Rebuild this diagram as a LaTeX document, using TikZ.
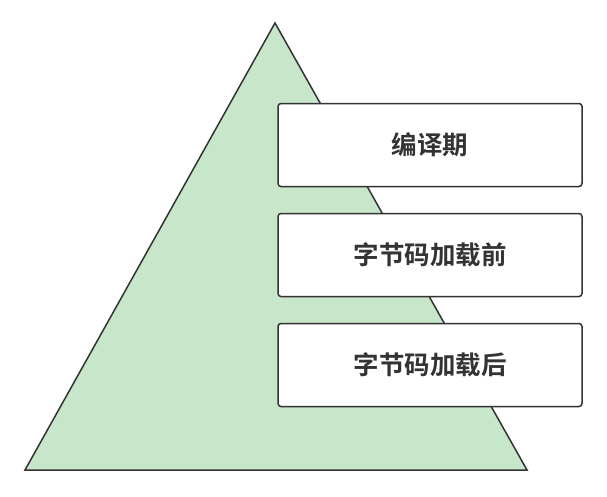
\documentclass[tikz,border=0pt]{standalone}
\usepackage{fontspec}
\newfontfamily\cjk{Noto Sans CJK SC}[BoldFont={* Bold}]
\definecolor{tri}{HTML}{C8E6C9}
\definecolor{ln}{HTML}{333333}
\tikzset{
  stage/.style={draw=ln, line width=1.5pt, fill=white, rounded corners=3pt,
    minimum width=304pt, minimum height=83pt, inner sep=0pt,
    font=\cjk\bfseries\fontsize{25.5}{30}\selectfont, text=ln}
}
\begin{document}
\begin{tikzpicture}[x=1pt,y=-1pt]
\useasboundingbox (0,0) rectangle (607,496);
\coordinate (apex) at (275,23);
\coordinate (bl) at (25,470);
\coordinate (br) at (527,470);
\draw[draw=ln, line width=1.5pt, fill=tri, line join=miter] (apex) -- (br) -- (bl) -- cycle;
\node[stage] (s1) at (430,145) {编译期};
\node[stage] (s2) at (430,255) {字节码加载前};
\node[stage] (s3) at (430,365) {字节码加载后};
\end{tikzpicture}
\end{document}
